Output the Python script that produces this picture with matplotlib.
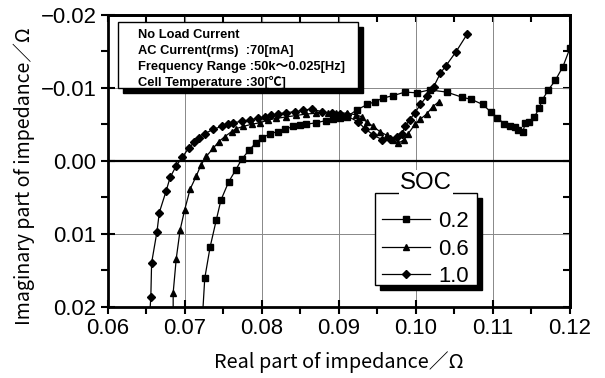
import matplotlib
matplotlib.use("Agg")
import matplotlib.pyplot as plt
from matplotlib.patches import Rectangle
from matplotlib.ticker import MultipleLocator, FuncFormatter

# Nyquist data (real part, plotted imaginary part), ohm
x_02 = [0.0721, 0.0726, 0.0733, 0.0741, 0.0747, 0.0757, 0.0766, 0.0774, 0.0784, 0.0792,
        0.0800, 0.0811, 0.0821, 0.0830, 0.0841, 0.0850, 0.0858, 0.0871, 0.0883, 0.0893,
        0.0901, 0.0910, 0.0924, 0.0937, 0.0947, 0.0958, 0.0970, 0.0986, 0.1001, 0.1018,
        0.1040, 0.1060, 0.1072, 0.1087, 0.1097, 0.1106, 0.1115, 0.1122, 0.1129, 0.1133,
        0.1139, 0.1142, 0.1147, 0.1154, 0.1160, 0.1164, 0.1172, 0.1181, 0.1191, 0.1200]
y_02 = [0.0250, 0.0161, 0.0118, 0.0081, 0.0054, 0.0029, 0.0013, -0.0002, -0.0015, -0.0024,
        -0.0031, -0.0037, -0.0040, -0.0043, -0.0047, -0.0049, -0.0050, -0.0052, -0.0055, -0.0057,
        -0.0058, -0.0060, -0.0070, -0.0077, -0.0081, -0.0086, -0.0089, -0.0094, -0.0093, -0.0097,
        -0.0094, -0.0087, -0.0084, -0.0077, -0.0067, -0.0059, -0.0050, -0.0047, -0.0046, -0.0042,
        -0.0040, -0.0051, -0.0053, -0.0060, -0.0072, -0.0083, -0.0097, -0.0110, -0.0129, -0.0154]

x_06 = [0.0685, 0.0685, 0.0689, 0.0694, 0.0700, 0.0707, 0.0715, 0.0721, 0.0728, 0.0737,
        0.0744, 0.0752, 0.0761, 0.0767, 0.0776, 0.0787, 0.0798, 0.0808, 0.0819, 0.0832,
        0.0845, 0.0858, 0.0871, 0.0886, 0.0897, 0.0910, 0.0922, 0.0930, 0.0936, 0.0945,
        0.0953, 0.0962, 0.0971, 0.0977, 0.0984, 0.0990, 0.0999, 0.1006, 0.1014, 0.1022,
        0.1030]
y_06 = [0.0240, 0.0181, 0.0134, 0.0095, 0.0067, 0.0039, 0.0021, 0.0006, -0.0006, -0.0017,
        -0.0026, -0.0033, -0.0040, -0.0044, -0.0047, -0.0050, -0.0052, -0.0056, -0.0058, -0.0060,
        -0.0062, -0.0064, -0.0065, -0.0066, -0.0066, -0.0065, -0.0063, -0.0060, -0.0053, -0.0047,
        -0.0040, -0.0035, -0.0028, -0.0024, -0.0028, -0.0037, -0.0050, -0.0057, -0.0064, -0.0074,
        -0.0081]

x_10 = [0.0653, 0.0656, 0.0657, 0.0664, 0.0667, 0.0676, 0.0681, 0.0689, 0.0697, 0.0705,
        0.0712, 0.0719, 0.0726, 0.0737, 0.0748, 0.0756, 0.0763, 0.0774, 0.0785, 0.0795,
        0.0804, 0.0812, 0.0821, 0.0832, 0.0843, 0.0853, 0.0865, 0.0878, 0.0891, 0.0901,
        0.0910, 0.0925, 0.0934, 0.0945, 0.0956, 0.0966, 0.0975, 0.0982, 0.0986, 0.0992,
        0.0999, 0.1006, 0.1014, 0.1023, 0.1032, 0.1039, 0.1052, 0.1067]
y_10 = [0.0235, 0.0187, 0.0140, 0.0097, 0.0071, 0.0041, 0.0023, 0.0007, -0.0005, -0.0017,
        -0.0025, -0.0031, -0.0037, -0.0043, -0.0047, -0.0050, -0.0052, -0.0054, -0.0056, -0.0058,
        -0.0060, -0.0062, -0.0064, -0.0066, -0.0067, -0.0069, -0.0071, -0.0067, -0.0065, -0.0064,
        -0.0062, -0.0053, -0.0044, -0.0035, -0.0029, -0.0030, -0.0032, -0.0037, -0.0047, -0.0056,
        -0.0066, -0.0077, -0.0088, -0.0101, -0.0120, -0.0130, -0.0149, -0.0174]

series = [("0.2", x_02, y_02, "s"), ("0.6", x_06, y_06, "^"), ("1.0", x_10, y_10, "D")]
info_lines = ["No Load Current",
              "AC Current(rms)  :70[mA]",
              "Frequency Range :50k～0.025[Hz]",
              "Cell Temperature :30[℃]"]

plt.rcParams["font.family"] = ["Liberation Sans", "Noto Sans CJK JP", "DejaVu Sans"]

fig = plt.figure(figsize=(6.05, 3.78), dpi=100)
ax = fig.add_axes([0.178, 0.1886, 0.764, 0.7725])

for label, xs, ys, mk in series:
    ms = 4.2 if mk == "D" else 4.6
    ax.plot(xs, ys, color="black", lw=0.9, marker=mk, ms=ms, mfc="black", mec="black",
            label=label, zorder=3)

ax.set_xlim(0.06, 0.12)
ax.set_ylim(0.02, -0.02)
ax.xaxis.set_major_locator(MultipleLocator(0.01))
ax.xaxis.set_minor_locator(MultipleLocator(0.005))
ax.yaxis.set_major_locator(MultipleLocator(0.01))
ax.yaxis.set_minor_locator(MultipleLocator(0.005))
ax.xaxis.set_major_formatter(FuncFormatter(lambda v, p: f"{v:.2f}"))
ax.yaxis.set_major_formatter(FuncFormatter(lambda v, p: f"{v:.2f}".replace("-", "\u2212")))

ax.grid(True, which="major", color="#888888", lw=0.7)
ax.axhline(0, color="black", lw=1.6, zorder=2)
for s in ax.spines.values():
    s.set_linewidth(2.0)

ax.tick_params(which="both", labelsize=15.5, width=1.5)
ax.tick_params(axis="both", which="major", direction="inout", length=10, pad=3)
ax.tick_params(axis="both", which="minor", direction="out", length=5)
# ticks on the opposite sides pointing in
ax2 = ax.secondary_xaxis("top")
ax2.xaxis.set_major_locator(MultipleLocator(0.01))
ax2.xaxis.set_minor_locator(MultipleLocator(0.005))
ax2.tick_params(which="both", direction="in", length=5, width=1.5, labeltop=False)
ax3 = ax.secondary_yaxis("right")
ax3.yaxis.set_major_locator(MultipleLocator(0.01))
ax3.yaxis.set_minor_locator(MultipleLocator(0.005))
ax3.tick_params(which="both", direction="in", length=5, width=1.5, labelright=False)
for a in (ax2, ax3):
    for s in a.spines.values():
        s.set_linewidth(2.0)

lab_font = ["Noto Sans CJK JP", "DejaVu Sans"]
ax.set_xlabel("Real part of impedance／Ω", fontsize=12, family=lab_font, va="center")
ax.set_ylabel("Imaginary part of impedance／Ω", fontsize=12, family=lab_font, va="center")
ax.xaxis.set_label_coords(0.5, -0.189)
ax.yaxis.set_label_coords(-0.180, 0.447)

# info box with drop shadow
bx0, by0, bw, bh = 0.022, 0.749, 0.519, 0.226
ax.add_patch(Rectangle((bx0 + 0.011, by0 - 0.017), bw, bh, transform=ax.transAxes,
                       facecolor="black", edgecolor="black", zorder=5))
ax.add_patch(Rectangle((bx0, by0), bw, bh, transform=ax.transAxes,
                       facecolor="white", edgecolor="black", lw=1.0, zorder=6))
info_texts = []
for i, line in enumerate(info_lines):
    info_texts.append(ax.text(0.066, 0.932 - i * 0.055, line, transform=ax.transAxes,
                              fontsize=9, fontweight="bold", va="center", ha="left", zorder=7))

# legend box with drop shadow, title sitting on its top edge
lx0, ly0, lx1, ly1 = 0.578, 0.074, 0.799, 0.389
ax.add_patch(Rectangle((lx0 + 0.011, ly0 - 0.017), lx1 - lx0, ly1 - ly0, transform=ax.transAxes,
                       facecolor="black", edgecolor="black", zorder=5))
ax.add_patch(Rectangle((lx0, ly0), lx1 - lx0, ly1 - ly0, transform=ax.transAxes,
                       facecolor="white", edgecolor="black", lw=1.0, zorder=5.5))
soc = ax.text((lx0 + lx1) / 2, 0.424, "SOC", transform=ax.transAxes, fontsize=17,
              ha="center", va="center", zorder=8,
              bbox=dict(facecolor="white", edgecolor="none", pad=1.0))

# scale text sizes so their pixel widths match the reference
fig.canvas.draw()
r = fig.canvas.get_renderer()


def scale_to(t, target, vertical=False):
    bb = t.get_window_extent(r)
    cur = bb.height if vertical else bb.width
    return t.get_fontsize() * target / cur


tick_size = scale_to(ax.get_xticklabels()[-1], 43)
ax.tick_params(which="both", labelsize=tick_size)
ax.xaxis.label.set_fontsize(scale_to(ax.xaxis.label, 250))
ax.yaxis.label.set_fontsize(scale_to(ax.yaxis.label, 298, vertical=True))
info_size = scale_to(info_texts[2], 207)
for t in info_texts:
    t.set_fontsize(info_size)
soc.set_fontsize(scale_to(soc, 52))

leg = ax.legend(loc="upper left", bbox_to_anchor=(0.593, 0.328), fontsize=tick_size,
                frameon=False, handlelength=2.2, handletextpad=0.35, labelspacing=0.3,
                borderpad=0, borderaxespad=0)
leg.set_zorder(6)

fig.savefig("out.png", dpi=100)
